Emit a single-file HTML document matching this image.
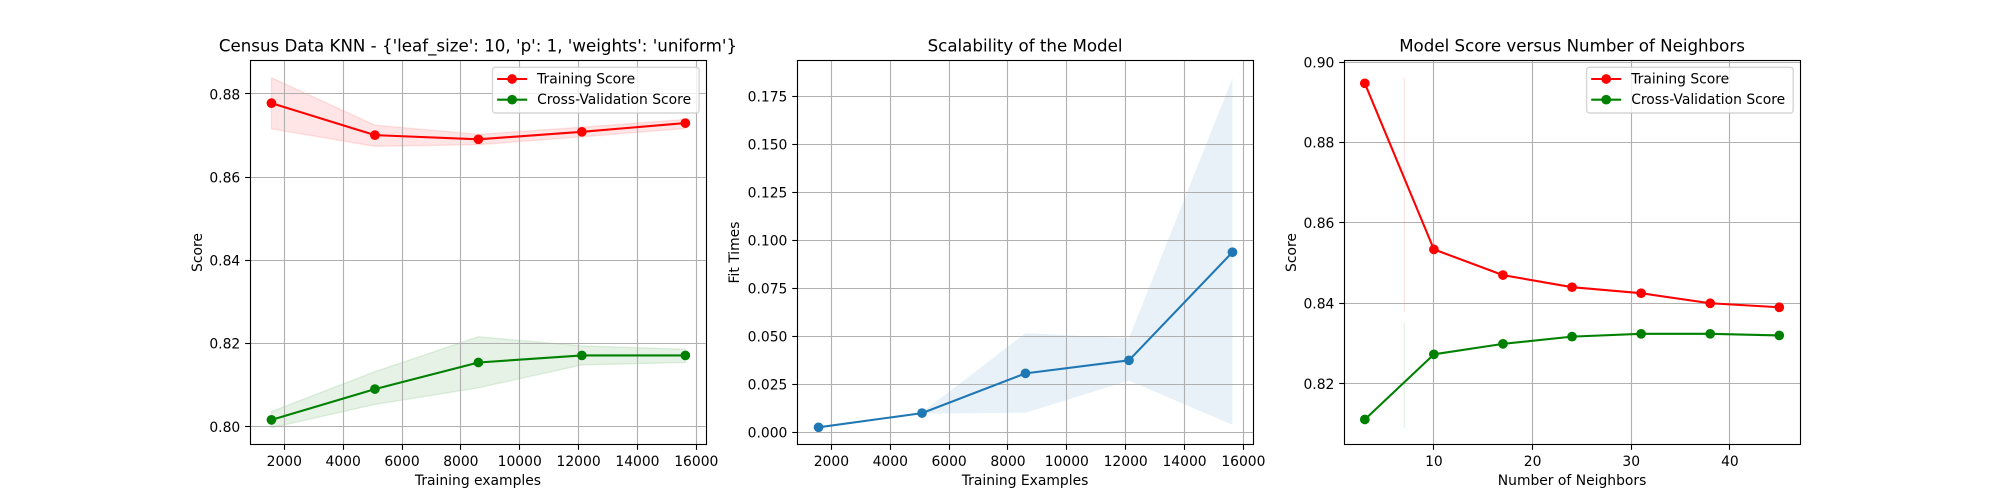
<!DOCTYPE html>
<html lang="en">
<head>
<meta charset="utf-8">
<title>Census Data KNN charts</title>
<style>
html,body{margin:0;padding:0;background:#fff;width:2000px;height:500px;overflow:hidden}
svg{display:block}
text{font-family:"DejaVu Sans","Liberation Sans",sans-serif;fill:#000;font-size:13.89px}
</style>
</head>
<body>
<svg id="chart" xmlns="http://www.w3.org/2000/svg" width="2000" height="500" viewBox="0 0 2000 500"></svg>
<script>
// ---- shared data ----
const trainSizes = [1563, 5079, 8595, 12111, 15628];
const trainSizeTicks = [2000, 4000, 6000, 8000, 10000, 12000, 14000, 16000];
const legendLabels = ['Training Score', 'Cross-Validation Score'];

// ---- panel 1: learning curve ----
const learnTrainMean = [0.8778, 0.8701, 0.8691, 0.8709, 0.8730];
const learnTrainLow  = [0.8716, 0.8674, 0.8678, 0.8697, 0.8717];
const learnTrainHigh = [0.8839, 0.8725, 0.8703, 0.8720, 0.8739];
const learnCvMean = [0.8016, 0.8090, 0.8154, 0.8171, 0.8171];
const learnCvLow  = [0.7997, 0.8053, 0.8093, 0.8148, 0.8154];
const learnCvHigh = [0.8036, 0.8132, 0.8216, 0.8194, 0.8186];
const learnYTicks = [0.80, 0.82, 0.84, 0.86, 0.88];

// ---- panel 2: scalability ----
const fitMean = [0.0026, 0.0100, 0.0307, 0.0375, 0.0938];
const fitLow  = [0.0024, 0.0097, 0.0102, 0.0269, 0.0039];
const fitHigh = [0.0028, 0.0103, 0.0516, 0.0490, 0.1844];
const fitYTicks = [0.000, 0.025, 0.050, 0.075, 0.100, 0.125, 0.150, 0.175];

// ---- panel 3: neighbours ----
const neighbors = [3, 10, 17, 24, 31, 38, 45];
const nbTrainMean = [0.8947, 0.8534, 0.8470, 0.8440, 0.8425, 0.8400, 0.8390];
const nbCvMean = [0.8111, 0.8273, 0.8299, 0.8317, 0.8324, 0.8324, 0.8320];
const nbBandX = [7];
const nbTrainBand = [0.8379, 0.8961];
const nbCvBand = [0.8090, 0.8351];
const nbXTicks = [10, 20, 30, 40];
const nbYTicks = [0.82, 0.84, 0.86, 0.88, 0.90];

const NS = 'http://www.w3.org/2000/svg';
const root = document.getElementById('chart');
const TOP = 60, BOTTOM = 445;

function node(parent, tag, attrs, txt) {
  const el = document.createElementNS(NS, tag);
  for (const k in attrs) el.setAttribute(k, attrs[k]);
  if (txt !== undefined) el.textContent = txt;
  parent.appendChild(el);
  return el;
}
function snap(v) { return Math.floor(v) + 0.5; }
function linear(d0, d1, r0, r1) { return v => r0 + (v - d0) * (r1 - r0) / (d1 - d0); }

function makeAxes(name, left, right, xlim, ylim, title, xlabel, ylabel, ylabelX, xticks, yticks, yfmt) {
  const g = node(root, 'g', {});
  
  
  const ax = { g, left, right, x: linear(xlim[0], xlim[1], left, right), y: linear(ylim[0], ylim[1], BOTTOM, TOP) };
  const bands = node(g, 'g', {});
  
  
  ax.bands = bands;

  const grid = node(g, 'g', { stroke: '#b0b0b0', 'stroke-width': 1.11, fill: 'none' });
  
  
  const tickG = node(g, 'g', { stroke: '#000', 'stroke-width': 1.11, fill: 'none' });
  
  
  const labels = node(g, 'g', {});
  
  

  xticks.forEach(t => {
    const px = snap(ax.x(t));
    node(grid, 'line', { x1: px, x2: px, y1: TOP, y2: BOTTOM });
    node(tickG, 'line', { x1: px, x2: px, y1: BOTTOM, y2: BOTTOM + 4.86 });
    const lab = node(labels, 'text', { x: ax.x(t), y: 466, 'text-anchor': 'middle' }, String(t));
    
    
  });
  yticks.forEach(t => {
    const py = snap(ax.y(t));
    node(grid, 'line', { x1: left, x2: right, y1: py, y2: py });
    node(tickG, 'line', { x1: left - 4.86, x2: left, y1: py, y2: py });
    const lab = node(labels, 'text', { x: left - 9.72, y: ax.y(t) + 5.3, 'text-anchor': 'end' }, t.toFixed(yfmt));
    
    
  });

  const series = node(g, 'g', {});
  
  
  ax.series = series;

  const frame = node(g, 'rect', { x: snap(left), y: snap(TOP), width: Math.round(right - left), height: BOTTOM - TOP - 1, fill: 'none', stroke: '#000', 'stroke-width': 1.11 });
  
  

  const tt = node(g, 'text', { x: (left + right) / 2, y: 51.7, 'text-anchor': 'middle', style: 'font-size:16.67px' }, title);
  
  
  const xl = node(g, 'text', { x: (left + right) / 2, y: 485, 'text-anchor': 'middle' }, xlabel);
  
  
  const yl = node(g, 'text', { x: 0, y: 0, 'text-anchor': 'middle', transform: 'translate(' + ylabelX + ',252.5) rotate(-90)' }, ylabel);
  
  
  return ax;
}

function band(ax, xs, lo, hi, color, name, edge) {
  const pts = [];
  xs.forEach((v, i) => pts.push(ax.x(v).toFixed(2) + ',' + ax.y(hi[i]).toFixed(2)));
  for (let i = xs.length - 1; i >= 0; i--) pts.push(ax.x(xs[i]).toFixed(2) + ',' + ax.y(lo[i]).toFixed(2));
  const p = node(ax.bands, 'polygon', { points: pts.join(' '), fill: color, 'fill-opacity': 0.1, stroke: edge ? color : 'none', 'stroke-opacity': 0.1, 'stroke-width': 1.39 });
  
  
}

function verticalBand(ax, xv, range, color, name) {
  const px = ax.x(xv);
  const l = node(ax.bands, 'line', { x1: px, x2: px, y1: ax.y(range[0]), y2: ax.y(range[1]), stroke: color, 'stroke-opacity': 0.1, 'stroke-width': 1.39 });
  
  
}

function lineSeries(ax, xs, ys, color, name) {
  const g = node(ax.series, 'g', {});
  
  
  const pts = xs.map((v, i) => ax.x(v).toFixed(2) + ',' + ax.y(ys[i]).toFixed(2)).join(' ');
  node(g, 'polyline', { points: pts, fill: 'none', stroke: color, 'stroke-width': 2.08, 'stroke-linejoin': 'round' });
  xs.forEach((v, i) => {
    const c = node(g, 'circle', { cx: ax.x(v).toFixed(2), cy: ax.y(ys[i]).toFixed(2), r: 4.86, fill: color });
    
    
  });
}

function legend(ax) {
  const right = ax.right - 6.8, left = right - 206.6;
  const g = node(ax.g, 'g', {});
  
  
  node(g, 'rect', { x: left, y: 67.3, width: 206.6, height: 45.7, rx: 2.8, ry: 2.8, fill: '#fff', 'fill-opacity': 0.8, stroke: '#ccc', 'stroke-opacity': 0.8, 'stroke-width': 1.39 });
  const colors = ['#ff0000', '#008000'];
  const handleY = [79, 99.7];
  legendLabels.forEach((label, i) => {
    const e = node(g, 'g', {});
    
    
    node(e, 'line', { x1: left + 4.6, x2: left + 34.6, y1: handleY[i], y2: handleY[i], stroke: colors[i], 'stroke-width': 2.08 });
    node(e, 'circle', { cx: left + 19.6, cy: handleY[i], r: 4.86, fill: colors[i] });
    node(e, 'text', { x: left + 44.6, y: handleY[i] + 4.5 }, label);
  });
}

// panel 1
const ax1 = makeAxes('learning-curve-panel', 250, 705.9, [834.5, 16326], [0.79555, 0.88818],
  "Census Data KNN - {'leaf_size': 10, 'p': 1, 'weights': 'uniform'}",
  'Training examples', 'Score', 202, trainSizeTicks, learnYTicks, 2);
band(ax1, trainSizes, learnTrainLow, learnTrainHigh, '#ff0000', 'training-score-band', true);
band(ax1, trainSizes, learnCvLow, learnCvHigh, '#008000', 'cv-score-band', true);
lineSeries(ax1, trainSizes, learnTrainMean, '#ff0000', 'training-score-line');
lineSeries(ax1, trainSizes, learnCvMean, '#008000', 'cv-score-line');
legend(ax1);

// panel 2
const ax2 = makeAxes('scalability-panel', 797.1, 1253, [834.5, 16326], [-0.00661, 0.19391],
  'Scalability of the Model', 'Training Examples', 'Fit Times', 739, trainSizeTicks, fitYTicks, 3);
band(ax2, trainSizes, fitLow, fitHigh, '#1f77b4', 'fit-time-band', false);
lineSeries(ax2, trainSizes, fitMean, '#1f77b4', 'fit-time-line');

// panel 3
const ax3 = makeAxes('neighbors-panel', 1344.1, 1800, [0.9, 47.1], [0.80475, 0.9005],
  'Model Score versus Number of Neighbors', 'Number of Neighbors', 'Score', 1296, nbXTicks, nbYTicks, 2);
verticalBand(ax3, nbBandX[0], nbTrainBand, '#ff0000', 'training-score-band');
verticalBand(ax3, nbBandX[0], nbCvBand, '#008000', 'cv-score-band');
lineSeries(ax3, neighbors, nbTrainMean, '#ff0000', 'training-score-line');
lineSeries(ax3, neighbors, nbCvMean, '#008000', 'cv-score-line');
legend(ax3);
</script>
</body>
</html>
